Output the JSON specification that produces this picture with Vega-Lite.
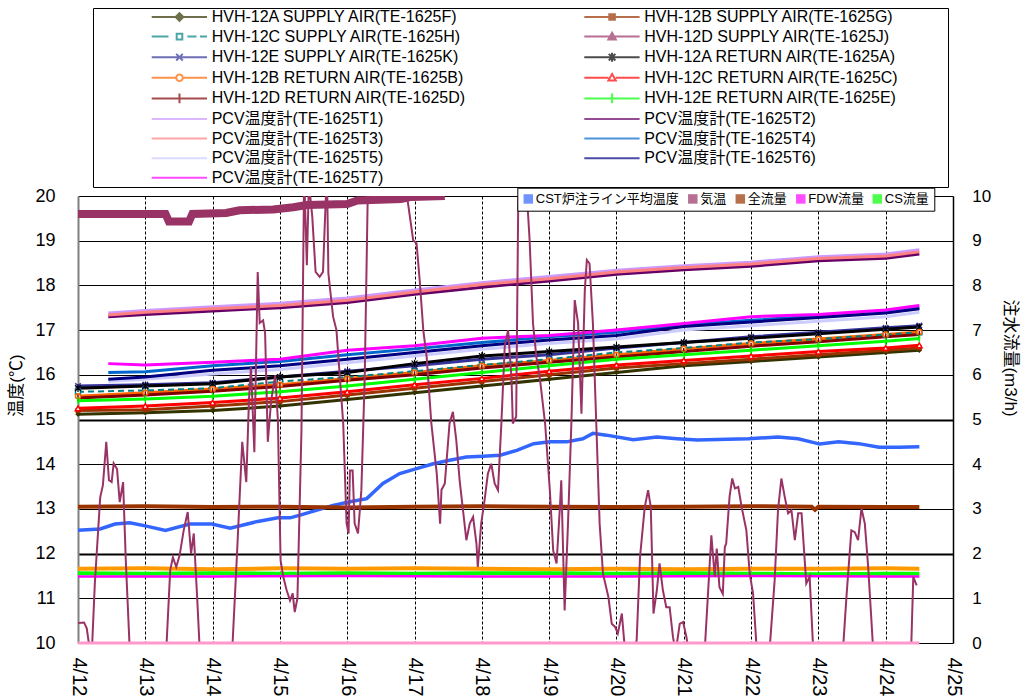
{
"$schema": "https://vega.github.io/schema/vega-lite/v6.json",
"width": 875, "height": 447,
"autosize": "none",
"padding": {"left": 78, "top": 196, "right": 74, "bottom": 57},
"background": "white",
"config": {"font": "Liberation Sans, Noto Sans CJK JP", "view": {"stroke": null}},
"datasets": {
"names": [
{"k":"F","s":"HVH-12A SUPPLY AIR(TE-1625F)"},{"k":"G","s":"HVH-12B SUPPLY AIR(TE-1625G)"},{"k":"H","s":"HVH-12C SUPPLY AIR(TE-1625H)"},{"k":"J","s":"HVH-12D SUPPLY AIR(TE-1625J)"},{"k":"K","s":"HVH-12E SUPPLY AIR(TE-1625K)"},
{"k":"A","s":"HVH-12A RETURN AIR(TE-1625A)"},{"k":"B","s":"HVH-12B RETURN AIR(TE-1625B)"},{"k":"C","s":"HVH-12C RETURN AIR(TE-1625C)"},{"k":"D","s":"HVH-12D RETURN AIR(TE-1625D)"},{"k":"E","s":"HVH-12E RETURN AIR(TE-1625E)"},
{"k":"T1","s":"PCV温度計(TE-1625T1)"},{"k":"T2","s":"PCV温度計(TE-1625T2)"},{"k":"T3","s":"PCV温度計(TE-1625T3)"},{"k":"T4","s":"PCV温度計(TE-1625T4)"},{"k":"T5","s":"PCV温度計(TE-1625T5)"},{"k":"T6","s":"PCV温度計(TE-1625T6)"},{"k":"T7","s":"PCV温度計(TE-1625T7)"},
{"k":"CST","s":"CST炉注ライン平均温度"}
],
"temp": [
{"k":"F","d":12,"v":15.12},{"k":"F","d":13,"v":15.15},{"k":"F","d":14,"v":15.2},{"k":"F","d":15,"v":15.3},{"k":"F","d":16,"v":15.45},{"k":"F","d":17,"v":15.6},{"k":"F","d":18,"v":15.75},{"k":"F","d":19,"v":15.9},{"k":"F","d":20,"v":16.05},{"k":"F","d":21,"v":16.2},{"k":"F","d":22,"v":16.3},{"k":"F","d":23,"v":16.4},{"k":"F","d":24,"v":16.5},{"k":"F","d":24.5,"v":16.55},
{"k":"G","d":12,"v":15.2},{"k":"G","d":13,"v":15.22},{"k":"G","d":14,"v":15.3},{"k":"G","d":15,"v":15.4},{"k":"G","d":16,"v":15.55},{"k":"G","d":17,"v":15.7},{"k":"G","d":18,"v":15.85},{"k":"G","d":19,"v":16.0},{"k":"G","d":20,"v":16.15},{"k":"G","d":21,"v":16.25},{"k":"G","d":22,"v":16.35},{"k":"G","d":23,"v":16.45},{"k":"G","d":24,"v":16.55},{"k":"G","d":24.5,"v":16.6},
{"k":"H","d":12,"v":15.62},{"k":"H","d":13,"v":15.65},{"k":"H","d":14,"v":15.7},{"k":"H","d":15,"v":15.85},{"k":"H","d":16,"v":15.95},{"k":"H","d":17,"v":16.08},{"k":"H","d":18,"v":16.22},{"k":"H","d":19,"v":16.35},{"k":"H","d":20,"v":16.5},{"k":"H","d":21,"v":16.6},{"k":"H","d":22,"v":16.72},{"k":"H","d":23,"v":16.8},{"k":"H","d":24,"v":16.9},{"k":"H","d":24.5,"v":16.95},
{"k":"K","d":12,"v":15.75},{"k":"K","d":13,"v":15.78},{"k":"K","d":14,"v":15.82},{"k":"K","d":15,"v":15.95},{"k":"K","d":16,"v":16.08},{"k":"K","d":17,"v":16.2},{"k":"K","d":18,"v":16.35},{"k":"K","d":19,"v":16.45},{"k":"K","d":20,"v":16.6},{"k":"K","d":21,"v":16.72},{"k":"K","d":22,"v":16.85},{"k":"K","d":23,"v":16.95},{"k":"K","d":24,"v":17.05},{"k":"K","d":24.5,"v":17.1},
{"k":"A","d":12,"v":15.7},{"k":"A","d":13,"v":15.75},{"k":"A","d":14,"v":15.8},{"k":"A","d":15,"v":15.95},{"k":"A","d":16,"v":16.05},{"k":"A","d":17,"v":16.25},{"k":"A","d":18,"v":16.42},{"k":"A","d":19,"v":16.52},{"k":"A","d":20,"v":16.62},{"k":"A","d":21,"v":16.72},{"k":"A","d":22,"v":16.82},{"k":"A","d":23,"v":16.92},{"k":"A","d":24,"v":17.02},{"k":"A","d":24.5,"v":17.07},
{"k":"B","d":12,"v":15.52},{"k":"B","d":13,"v":15.6},{"k":"B","d":14,"v":15.68},{"k":"B","d":15,"v":15.78},{"k":"B","d":16,"v":15.92},{"k":"B","d":17,"v":16.05},{"k":"B","d":18,"v":16.2},{"k":"B","d":19,"v":16.32},{"k":"B","d":20,"v":16.45},{"k":"B","d":21,"v":16.58},{"k":"B","d":22,"v":16.7},{"k":"B","d":23,"v":16.8},{"k":"B","d":24,"v":16.9},{"k":"B","d":24.5,"v":16.96},
{"k":"C","d":12,"v":15.25},{"k":"C","d":13,"v":15.3},{"k":"C","d":14,"v":15.38},{"k":"C","d":15,"v":15.48},{"k":"C","d":16,"v":15.62},{"k":"C","d":17,"v":15.78},{"k":"C","d":18,"v":15.92},{"k":"C","d":19,"v":16.08},{"k":"C","d":20,"v":16.22},{"k":"C","d":21,"v":16.32},{"k":"C","d":22,"v":16.42},{"k":"C","d":23,"v":16.52},{"k":"C","d":24,"v":16.6},{"k":"C","d":24.5,"v":16.66},
{"k":"D","d":12,"v":15.48},{"k":"D","d":13,"v":15.55},{"k":"D","d":14,"v":15.63},{"k":"D","d":15,"v":15.74},{"k":"D","d":16,"v":15.88},{"k":"D","d":17,"v":16.0},{"k":"D","d":18,"v":16.15},{"k":"D","d":19,"v":16.28},{"k":"D","d":20,"v":16.4},{"k":"D","d":21,"v":16.52},{"k":"D","d":22,"v":16.64},{"k":"D","d":23,"v":16.74},{"k":"D","d":24,"v":16.85},{"k":"D","d":24.5,"v":16.9},
{"k":"E","d":12,"v":15.42},{"k":"E","d":13,"v":15.46},{"k":"E","d":14,"v":15.52},{"k":"E","d":15,"v":15.62},{"k":"E","d":16,"v":15.75},{"k":"E","d":17,"v":15.9},{"k":"E","d":18,"v":16.05},{"k":"E","d":19,"v":16.2},{"k":"E","d":20,"v":16.35},{"k":"E","d":21,"v":16.45},{"k":"E","d":22,"v":16.55},{"k":"E","d":23,"v":16.65},{"k":"E","d":24,"v":16.75},{"k":"E","d":24.5,"v":16.81},
{"k":"T1","d":12.45,"v":17.38},{"k":"T1","d":13,"v":17.44},{"k":"T1","d":14,"v":17.52},{"k":"T1","d":15,"v":17.6},{"k":"T1","d":16,"v":17.72},{"k":"T1","d":17,"v":17.9},{"k":"T1","d":18,"v":18.06},{"k":"T1","d":19,"v":18.2},{"k":"T1","d":20,"v":18.34},{"k":"T1","d":21,"v":18.44},{"k":"T1","d":22,"v":18.52},{"k":"T1","d":23,"v":18.64},{"k":"T1","d":24,"v":18.7},{"k":"T1","d":24.5,"v":18.8},
{"k":"T2","d":12.45,"v":17.3},{"k":"T2","d":13,"v":17.35},{"k":"T2","d":14,"v":17.43},{"k":"T2","d":15,"v":17.5},{"k":"T2","d":16,"v":17.62},{"k":"T2","d":17,"v":17.8},{"k":"T2","d":18,"v":17.96},{"k":"T2","d":19,"v":18.1},{"k":"T2","d":20,"v":18.25},{"k":"T2","d":21,"v":18.35},{"k":"T2","d":22,"v":18.43},{"k":"T2","d":23,"v":18.55},{"k":"T2","d":24,"v":18.61},{"k":"T2","d":24.5,"v":18.7},
{"k":"T3","d":12.45,"v":17.34},{"k":"T3","d":13,"v":17.4},{"k":"T3","d":14,"v":17.48},{"k":"T3","d":15,"v":17.55},{"k":"T3","d":16,"v":17.67},{"k":"T3","d":17,"v":17.85},{"k":"T3","d":18,"v":18.02},{"k":"T3","d":19,"v":18.15},{"k":"T3","d":20,"v":18.3},{"k":"T3","d":21,"v":18.4},{"k":"T3","d":22,"v":18.48},{"k":"T3","d":23,"v":18.6},{"k":"T3","d":24,"v":18.66},{"k":"T3","d":24.5,"v":18.75},
{"k":"T4","d":12.45,"v":16.05},{"k":"T4","d":13,"v":16.07},{"k":"T4","d":14,"v":16.2},{"k":"T4","d":15,"v":16.3},{"k":"T4","d":16,"v":16.45},{"k":"T4","d":17,"v":16.58},{"k":"T4","d":18,"v":16.72},{"k":"T4","d":19,"v":16.85},{"k":"T4","d":20,"v":16.95},{"k":"T4","d":21,"v":17.12},{"k":"T4","d":22,"v":17.22},{"k":"T4","d":23,"v":17.32},{"k":"T4","d":24,"v":17.42},{"k":"T4","d":24.5,"v":17.5},
{"k":"T5","d":12.45,"v":15.85},{"k":"T5","d":13,"v":15.9},{"k":"T5","d":14,"v":16.02},{"k":"T5","d":15,"v":16.12},{"k":"T5","d":16,"v":16.27},{"k":"T5","d":17,"v":16.42},{"k":"T5","d":18,"v":16.57},{"k":"T5","d":19,"v":16.7},{"k":"T5","d":20,"v":16.8},{"k":"T5","d":21,"v":17.0},{"k":"T5","d":22,"v":17.1},{"k":"T5","d":23,"v":17.2},{"k":"T5","d":24,"v":17.3},{"k":"T5","d":24.5,"v":17.4},
{"k":"T6","d":12.45,"v":15.9},{"k":"T6","d":13,"v":15.95},{"k":"T6","d":14,"v":16.1},{"k":"T6","d":15,"v":16.2},{"k":"T6","d":16,"v":16.35},{"k":"T6","d":17,"v":16.5},{"k":"T6","d":18,"v":16.65},{"k":"T6","d":19,"v":16.78},{"k":"T6","d":20,"v":16.88},{"k":"T6","d":21,"v":17.08},{"k":"T6","d":22,"v":17.18},{"k":"T6","d":23,"v":17.28},{"k":"T6","d":24,"v":17.38},{"k":"T6","d":24.5,"v":17.48},
{"k":"T7","d":12.45,"v":16.25},{"k":"T7","d":13,"v":16.22},{"k":"T7","d":14,"v":16.28},{"k":"T7","d":15,"v":16.35},{"k":"T7","d":16,"v":16.55},{"k":"T7","d":17,"v":16.65},{"k":"T7","d":18,"v":16.82},{"k":"T7","d":19,"v":16.88},{"k":"T7","d":20,"v":17.0},{"k":"T7","d":21,"v":17.15},{"k":"T7","d":22,"v":17.3},{"k":"T7","d":23,"v":17.35},{"k":"T7","d":24,"v":17.45},{"k":"T7","d":24.5,"v":17.55},
{"k":"J","d":12,"v":19.6},{"k":"J","d":13.3,"v":19.6},{"k":"J","d":13.35,"v":19.43},{"k":"J","d":13.65,"v":19.43},{"k":"J","d":13.7,"v":19.6},{"k":"J","d":14.2,"v":19.62},{"k":"J","d":14.4,"v":19.68},{"k":"J","d":14.9,"v":19.7},{"k":"J","d":15.2,"v":19.75},{"k":"J","d":15.4,"v":19.8},{"k":"J","d":16.0,"v":19.82},{"k":"J","d":16.15,"v":19.9},{"k":"J","d":16.8,"v":19.93},{"k":"J","d":16.95,"v":19.98},{"k":"J","d":17.45,"v":20.0},
{"k":"CST","d":12,"v":12.52},{"k":"CST","d":12.33,"v":12.55},{"k":"CST","d":12.55,"v":12.66},{"k":"CST","d":12.77,"v":12.69},{"k":"CST","d":13.0,"v":12.62},{"k":"CST","d":13.3,"v":12.52},{"k":"CST","d":13.66,"v":12.66},{"k":"CST","d":13.99,"v":12.66},{"k":"CST","d":14.26,"v":12.57},{"k":"CST","d":14.67,"v":12.72},{"k":"CST","d":14.97,"v":12.8},{"k":"CST","d":15.15,"v":12.8},{"k":"CST","d":15.3,"v":12.86},{"k":"CST","d":15.79,"v":13.08},{"k":"CST","d":16.04,"v":13.16},{"k":"CST","d":16.29,"v":13.23},{"k":"CST","d":16.53,"v":13.57},{"k":"CST","d":16.78,"v":13.79},{"k":"CST","d":17.03,"v":13.9},{"k":"CST","d":17.28,"v":14.01},{"k":"CST","d":17.52,"v":14.09},{"k":"CST","d":17.77,"v":14.16},{"k":"CST","d":18.02,"v":14.18},{"k":"CST","d":18.27,"v":14.2},{"k":"CST","d":18.52,"v":14.31},{"k":"CST","d":18.77,"v":14.46},{"k":"CST","d":19.01,"v":14.5},{"k":"CST","d":19.26,"v":14.5},{"k":"CST","d":19.5,"v":14.57},{"k":"CST","d":19.65,"v":14.69},{"k":"CST","d":19.85,"v":14.65},{"k":"CST","d":20.25,"v":14.55},{"k":"CST","d":20.6,"v":14.61},{"k":"CST","d":20.9,"v":14.57},{"k":"CST","d":21.2,"v":14.54},{"k":"CST","d":21.5,"v":14.55},{"k":"CST","d":21.96,"v":14.57},{"k":"CST","d":22.4,"v":14.61},{"k":"CST","d":22.7,"v":14.57},{"k":"CST","d":23.02,"v":14.45},{"k":"CST","d":23.3,"v":14.5},{"k":"CST","d":23.6,"v":14.46},{"k":"CST","d":23.9,"v":14.38},{"k":"CST","d":24.2,"v":14.38},{"k":"CST","d":24.5,"v":14.39}
],
"right": [
{"k":"TOT","d":12,"v":3.05},{"k":"TOT","d":13,"v":3.06},{"k":"TOT","d":14,"v":3.04},{"k":"TOT","d":15,"v":3.05},{"k":"TOT","d":16,"v":3.03},{"k":"TOT","d":17,"v":3.05},{"k":"TOT","d":18,"v":3.06},{"k":"TOT","d":19,"v":3.05},{"k":"TOT","d":20,"v":3.04},{"k":"TOT","d":21,"v":3.05},{"k":"TOT","d":22,"v":3.06},{"k":"TOT","d":22.9,"v":3.05},{"k":"TOT","d":22.95,"v":2.98},{"k":"TOT","d":23,"v":3.05},{"k":"TOT","d":24,"v":3.04},{"k":"TOT","d":24.5,"v":3.04},
{"k":"OR","d":12,"v":1.66},{"k":"OR","d":13,"v":1.67},{"k":"OR","d":14,"v":1.65},{"k":"OR","d":15,"v":1.67},{"k":"OR","d":16,"v":1.66},{"k":"OR","d":17,"v":1.67},{"k":"OR","d":18,"v":1.66},{"k":"OR","d":19,"v":1.65},{"k":"OR","d":20,"v":1.66},{"k":"OR","d":21,"v":1.65},{"k":"OR","d":22,"v":1.66},{"k":"OR","d":23,"v":1.66},{"k":"OR","d":24,"v":1.67},{"k":"OR","d":24.5,"v":1.66},
{"k":"CS","d":12,"v":1.56},{"k":"CS","d":13,"v":1.55},{"k":"CS","d":14,"v":1.56},{"k":"CS","d":15,"v":1.55},{"k":"CS","d":16,"v":1.56},{"k":"CS","d":17,"v":1.55},{"k":"CS","d":18,"v":1.56},{"k":"CS","d":19,"v":1.56},{"k":"CS","d":20,"v":1.55},{"k":"CS","d":21,"v":1.56},{"k":"CS","d":22,"v":1.55},{"k":"CS","d":23,"v":1.54},{"k":"CS","d":24,"v":1.55},{"k":"CS","d":24.5,"v":1.55},
{"k":"FDW","d":12,"v":1.49},{"k":"FDW","d":14,"v":1.49},{"k":"FDW","d":16,"v":1.5},{"k":"FDW","d":18,"v":1.49},{"k":"FDW","d":20,"v":1.49},{"k":"FDW","d":22,"v":1.5},{"k":"FDW","d":24,"v":1.49},{"k":"FDW","d":24.5,"v":1.49},
{"k":"PK","d":12,"v":0},{"k":"PK","d":18,"v":0},{"k":"PK","d":24.5,"v":0},
{"k":"AT","d":12.0,"v":0.45},{"k":"AT","d":12.09,"v":0.46},{"k":"AT","d":12.13,"v":0.33},{"k":"AT","d":12.18,"v":-0.2},{"k":"AT","d":12.21,"v":-0.05},{"k":"AT","d":12.25,"v":1.33},{"k":"AT","d":12.33,"v":3.26},{"k":"AT","d":12.37,"v":3.53},{"k":"AT","d":12.42,"v":4.5},{"k":"AT","d":12.46,"v":3.64},{"k":"AT","d":12.5,"v":3.6},{"k":"AT","d":12.53,"v":4.02},{"k":"AT","d":12.58,"v":3.89},{"k":"AT","d":12.62,"v":3.15},{"k":"AT","d":12.67,"v":3.6},{"k":"AT","d":12.71,"v":1.85},{"k":"AT","d":12.77,"v":-0.2},{"k":"AT","d":13.07,"v":-0.4},{"k":"AT","d":13.31,"v":-0.2},{"k":"AT","d":13.37,"v":1.63},{"k":"AT","d":13.41,"v":1.92},{"k":"AT","d":13.46,"v":1.7},{"k":"AT","d":13.51,"v":1.96},{"k":"AT","d":13.57,"v":2.52},{"k":"AT","d":13.63,"v":2.93},{"k":"AT","d":13.68,"v":2.0},{"k":"AT","d":13.72,"v":2.45},{"k":"AT","d":13.77,"v":1.03},{"k":"AT","d":13.81,"v":-0.2},{"k":"AT","d":14.03,"v":-0.4},{"k":"AT","d":14.29,"v":-0.2},{"k":"AT","d":14.36,"v":1.92},{"k":"AT","d":14.44,"v":4.5},{"k":"AT","d":14.5,"v":3.6},{"k":"AT","d":14.54,"v":5.43},{"k":"AT","d":14.57,"v":6.18},{"k":"AT","d":14.62,"v":4.27},{"k":"AT","d":14.67,"v":8.3},{"k":"AT","d":14.7,"v":7.16},{"k":"AT","d":14.75,"v":7.22},{"k":"AT","d":14.78,"v":6.93},{"k":"AT","d":14.82,"v":4.5},{"k":"AT","d":14.87,"v":5.43},{"k":"AT","d":14.93,"v":5.99},{"k":"AT","d":14.97,"v":4.98},{"k":"AT","d":15.01,"v":1.85},{"k":"AT","d":15.05,"v":1.48},{"k":"AT","d":15.1,"v":1.18},{"k":"AT","d":15.15,"v":0.95},{"k":"AT","d":15.19,"v":1.11},{"k":"AT","d":15.22,"v":0.69},{"k":"AT","d":15.26,"v":1.0},{"k":"AT","d":15.32,"v":4.76},{"k":"AT","d":15.36,"v":10.5},{"k":"AT","d":15.4,"v":8.45},{"k":"AT","d":15.43,"v":10.3},{"k":"AT","d":15.48,"v":9.55},{"k":"AT","d":15.53,"v":8.3},{"k":"AT","d":15.59,"v":8.19},{"k":"AT","d":15.64,"v":8.3},{"k":"AT","d":15.68,"v":9.9},{"k":"AT","d":15.7,"v":10.4},{"k":"AT","d":15.72,"v":8.27},{"k":"AT","d":15.79,"v":7.3},{"k":"AT","d":15.84,"v":7.0},{"k":"AT","d":15.89,"v":5.95},{"k":"AT","d":15.94,"v":4.92},{"k":"AT","d":15.99,"v":2.68},{"k":"AT","d":16.02,"v":2.45},{"k":"AT","d":16.04,"v":3.86},{"k":"AT","d":16.08,"v":3.86},{"k":"AT","d":16.11,"v":2.68},{"k":"AT","d":16.16,"v":2.45},{"k":"AT","d":16.21,"v":3.42},{"k":"AT","d":16.26,"v":5.95},{"k":"AT","d":16.31,"v":10.5},{"k":"AT","d":16.49,"v":10.6},{"k":"AT","d":16.71,"v":10.6},{"k":"AT","d":16.86,"v":10.3},{"k":"AT","d":16.91,"v":9.76},{"k":"AT","d":16.98,"v":9.01},{"k":"AT","d":17.03,"v":8.94},{"k":"AT","d":17.08,"v":8.05},{"k":"AT","d":17.13,"v":7.0},{"k":"AT","d":17.18,"v":6.4},{"k":"AT","d":17.25,"v":4.91},{"k":"AT","d":17.33,"v":3.79},{"k":"AT","d":17.38,"v":2.67},{"k":"AT","d":17.4,"v":3.42},{"k":"AT","d":17.45,"v":3.57},{"k":"AT","d":17.52,"v":4.91},{"k":"AT","d":17.57,"v":5.17},{"k":"AT","d":17.62,"v":4.54},{"k":"AT","d":17.67,"v":3.64},{"k":"AT","d":17.72,"v":2.97},{"k":"AT","d":17.77,"v":2.3},{"k":"AT","d":17.82,"v":2.67},{"k":"AT","d":17.87,"v":2.82},{"k":"AT","d":17.92,"v":2.22},{"k":"AT","d":17.94,"v":1.7},{"k":"AT","d":17.99,"v":2.67},{"k":"AT","d":18.04,"v":3.19},{"k":"AT","d":18.09,"v":3.79},{"k":"AT","d":18.14,"v":4.01},{"k":"AT","d":18.19,"v":3.57},{"k":"AT","d":18.24,"v":3.42},{"k":"AT","d":18.29,"v":4.91},{"k":"AT","d":18.34,"v":6.63},{"k":"AT","d":18.39,"v":7.0},{"k":"AT","d":18.44,"v":5.95},{"k":"AT","d":18.46,"v":4.91},{"k":"AT","d":18.51,"v":5.06},{"k":"AT","d":18.54,"v":9.76},{"k":"AT","d":18.56,"v":10.5},{"k":"AT","d":18.65,"v":10.5},{"k":"AT","d":18.71,"v":9.01},{"k":"AT","d":18.76,"v":7.15},{"k":"AT","d":18.81,"v":6.4},{"k":"AT","d":18.86,"v":5.95},{"k":"AT","d":18.94,"v":4.91},{"k":"AT","d":19.01,"v":3.42},{"k":"AT","d":19.06,"v":2.07},{"k":"AT","d":19.11,"v":1.78},{"k":"AT","d":19.16,"v":3.04},{"k":"AT","d":19.18,"v":3.64},{"k":"AT","d":19.23,"v":0.73},{"k":"AT","d":19.28,"v":2.67},{"k":"AT","d":19.33,"v":4.91},{"k":"AT","d":19.38,"v":7.67},{"k":"AT","d":19.43,"v":7.15},{"k":"AT","d":19.48,"v":5.13},{"k":"AT","d":19.53,"v":7.9},{"k":"AT","d":19.56,"v":8.57},{"k":"AT","d":19.6,"v":8.49},{"k":"AT","d":19.65,"v":7.15},{"k":"AT","d":19.7,"v":4.91},{"k":"AT","d":19.75,"v":2.67},{"k":"AT","d":19.8,"v":1.55},{"k":"AT","d":19.88,"v":1.03},{"k":"AT","d":19.93,"v":0.43},{"k":"AT","d":19.98,"v":0.36},{"k":"AT","d":20.02,"v":0.21},{"k":"AT","d":20.08,"v":0.66},{"k":"AT","d":20.12,"v":-0.05},{"k":"AT","d":20.23,"v":-0.3},{"k":"AT","d":20.3,"v":0.06},{"k":"AT","d":20.35,"v":1.92},{"k":"AT","d":20.42,"v":3.04},{"k":"AT","d":20.47,"v":3.42},{"k":"AT","d":20.51,"v":3.04},{"k":"AT","d":20.55,"v":0.66},{"k":"AT","d":20.6,"v":1.18},{"k":"AT","d":20.64,"v":1.78},{"k":"AT","d":20.69,"v":1.18},{"k":"AT","d":20.74,"v":0.8},{"k":"AT","d":20.79,"v":0.8},{"k":"AT","d":20.84,"v":0.13},{"k":"AT","d":20.88,"v":-0.2},{"k":"AT","d":20.94,"v":0.43},{"k":"AT","d":20.99,"v":0.47},{"k":"AT","d":21.04,"v":0.13},{"k":"AT","d":21.09,"v":-0.4},{"k":"AT","d":21.31,"v":-0.2},{"k":"AT","d":21.41,"v":2.41},{"k":"AT","d":21.46,"v":1.48},{"k":"AT","d":21.49,"v":2.11},{"k":"AT","d":21.53,"v":1.25},{"k":"AT","d":21.58,"v":1.1},{"k":"AT","d":21.61,"v":2.15},{"k":"AT","d":21.63,"v":2.22},{"k":"AT","d":21.68,"v":3.27},{"k":"AT","d":21.72,"v":3.68},{"k":"AT","d":21.76,"v":3.46},{"k":"AT","d":21.81,"v":3.49},{"k":"AT","d":21.86,"v":3.04},{"k":"AT","d":21.93,"v":2.52},{"k":"AT","d":21.98,"v":1.55},{"k":"AT","d":22.03,"v":1.1},{"k":"AT","d":22.08,"v":-0.05},{"k":"AT","d":22.17,"v":-0.4},{"k":"AT","d":22.28,"v":-0.05},{"k":"AT","d":22.35,"v":1.4},{"k":"AT","d":22.4,"v":2.97},{"k":"AT","d":22.45,"v":3.68},{"k":"AT","d":22.5,"v":3.27},{"k":"AT","d":22.55,"v":2.9},{"k":"AT","d":22.6,"v":2.97},{"k":"AT","d":22.65,"v":2.3},{"k":"AT","d":22.7,"v":2.9},{"k":"AT","d":22.75,"v":2.9},{"k":"AT","d":22.82,"v":1.33},{"k":"AT","d":22.87,"v":1.48},{"k":"AT","d":22.92,"v":-0.05},{"k":"AT","d":23.14,"v":-0.4},{"k":"AT","d":23.37,"v":-0.05},{"k":"AT","d":23.42,"v":1.1},{"k":"AT","d":23.49,"v":2.52},{"k":"AT","d":23.54,"v":2.48},{"k":"AT","d":23.59,"v":2.3},{"k":"AT","d":23.64,"v":3.01},{"k":"AT","d":23.69,"v":2.67},{"k":"AT","d":23.74,"v":1.7},{"k":"AT","d":23.81,"v":-0.05},{"k":"AT","d":24.06,"v":-0.4},{"k":"AT","d":24.38,"v":-0.05},{"k":"AT","d":24.41,"v":1.48},{"k":"AT","d":24.46,"v":1.29}
]
},
"layer": [
{
"data": {"name": "temp"},
"transform": [{"lookup": "k", "from": {"data": {"name": "names"}, "key": "k", "fields": ["s"]}}],
"encoding": {
"x": {"field": "d", "type": "quantitative", "scale": {"domain": [12, 25], "nice": false, "zero": false},
 "axis": {"values": [12,13,14,15,16,17,18,19,20,21,22,23,24,25], "labelExpr": "'4/' + datum.value", "labelAngle": 90, "labelFontSize": 20, "labelColor": "black", "labelPadding": 14, "labelFlush": false, "labelOverlap": false, "ticks": false, "domain": false, "grid": true, "gridColor": "black", "gridDash": [3, 2], "gridWidth": 1, "gridOpacity": {"condition": {"test": "datum.value == 12 || datum.value == 25", "value": 0}, "value": 1}, "title": null}},
"y": {"field": "v", "type": "quantitative", "scale": {"domain": [10, 20], "nice": false, "zero": false},
 "axis": {"values": [10,11,12,13,14,15,16,17,18,19,20], "grid": true, "gridColor": "black", "gridWidth": {"condition": {"test": "datum.value == 12 || datum.value == 15", "value": 2.2}, "value": 1}, "ticks": false, "domainColor": "#808080", "domainWidth": 2, "labelFontSize": 18, "labelPadding": 23, "labelColor": "black", "title": "温度(℃)", "titleFontSize": 17, "titleFontWeight": "normal", "titleColor": "black", "titleAngle": 270, "titleX": -61.5, "titleY": 189, "titleAlign": "center", "titleBaseline": "middle"}},
"color": {"field": "s", "type": "nominal", "legend": null, "scale": {
 "domain": ["HVH-12A SUPPLY AIR(TE-1625F)","HVH-12B SUPPLY AIR(TE-1625G)","HVH-12C SUPPLY AIR(TE-1625H)","HVH-12D SUPPLY AIR(TE-1625J)","HVH-12E SUPPLY AIR(TE-1625K)","HVH-12A RETURN AIR(TE-1625A)","HVH-12B RETURN AIR(TE-1625B)","HVH-12C RETURN AIR(TE-1625C)","HVH-12D RETURN AIR(TE-1625D)","HVH-12E RETURN AIR(TE-1625E)","PCV温度計(TE-1625T1)","PCV温度計(TE-1625T2)","PCV温度計(TE-1625T3)","PCV温度計(TE-1625T4)","PCV温度計(TE-1625T5)","PCV温度計(TE-1625T6)","PCV温度計(TE-1625T7)"],
 "range": ["#333300","#993300","#008080","#993366","#333399","#000000","#FF6600","#FF0000","#800000","#00FF00","#CC99FF","#660066","#FF8080","#0066CC","#CCCCFF","#000080","#FF00FF"]}}
},
"layer": [
{"transform": [{"filter": "datum.k != 'J' && datum.k != 'H' && datum.k != 'CST'"}], "mark": {"type": "line", "strokeWidth": 3, "clip": true}},
{"transform": [{"filter": "datum.k == 'H'"}], "mark": {"type": "line", "strokeWidth": 2, "strokeDash": [6, 4], "clip": true}},
{"transform": [{"filter": "datum.k == 'F'"}], "mark": {"type": "point", "shape": "diamond", "filled": true, "size": 30, "opacity": 1}},
{"transform": [{"filter": "datum.k == 'G'"}], "mark": {"type": "point", "shape": "square", "filled": true, "size": 25, "opacity": 1}},
{"transform": [{"filter": "datum.k == 'H'"}], "mark": {"type": "point", "shape": "square", "filled": false, "fill": "white", "size": 25, "strokeWidth": 1.5, "opacity": 1}},
{"transform": [{"filter": "datum.k == 'K'"}], "mark": {"type": "point", "shape": "M-1,-1L1,1M-1,1L1,-1", "filled": false, "size": 30, "strokeWidth": 1.5, "opacity": 1}},
{"transform": [{"filter": "datum.k == 'A'"}], "mark": {"type": "point", "shape": "M-1,-1L1,1M-1,1L1,-1M0,-1.3V1.3", "filled": false, "size": 35, "strokeWidth": 1.2, "opacity": 1}},
{"transform": [{"filter": "datum.k == 'B'"}], "mark": {"type": "point", "shape": "circle", "filled": false, "fill": "white", "size": 25, "strokeWidth": 1.5, "opacity": 1}},
{"transform": [{"filter": "datum.k == 'C'"}], "mark": {"type": "point", "shape": "triangle-up", "filled": false, "fill": "white", "size": 30, "strokeWidth": 1.5, "opacity": 1}},
{"transform": [{"filter": "datum.k == 'D' || datum.k == 'E'"}], "mark": {"type": "point", "shape": "M0,-1.2V1.2", "filled": false, "size": 35, "strokeWidth": 1.5, "opacity": 1}},
{"transform": [{"filter": "datum.k == 'J'"}], "mark": {"type": "line", "strokeWidth": 8, "clip": true}},
{"transform": [{"filter": "datum.k == 'CST'"}], "mark": {"type": "line", "strokeWidth": 3.5, "color": "#3366FF"}, "encoding": {"color": {"value": "#3366FF"}}}
]
},
{
"data": {"name": "right"},
"encoding": {
"x": {"field": "d", "type": "quantitative", "scale": {"domain": [12, 25], "nice": false, "zero": false},
 "axis": {"values": [12,13,14,15,16,17,18,19,20,21,22,23,24,25], "labelExpr": "'4/' + datum.value", "labelAngle": 90, "labelFontSize": 20, "labelColor": "black", "labelPadding": 14, "labelFlush": false, "labelOverlap": false, "ticks": false, "domain": false, "grid": true, "gridColor": "black", "gridDash": [3, 2], "gridWidth": 1, "gridOpacity": {"condition": {"test": "datum.value == 12 || datum.value == 25", "value": 0}, "value": 1}, "title": null}},
"y": {"field": "v", "type": "quantitative", "scale": {"domain": [0, 10], "nice": false, "zero": false},
 "axis": {"orient": "right", "values": [0,1,2,3,4,5,6,7,8,9,10], "grid": false, "ticks": false, "domainColor": "black", "domainWidth": 1.5, "labelFontSize": 17, "labelPadding": 18.7, "labelAlign": "left", "labelColor": "black", "title": "注水流量(m3/h)", "titleFontSize": 17, "titleFontWeight": "normal", "titleColor": "black", "titleAngle": 90, "titleX": 56, "titleY": 161.5, "titleAlign": "center", "titleBaseline": "middle"}},
"color": {"field": "k", "type": "nominal", "legend": null, "scale": {"domain": ["AT","TOT","FDW","CS","OR","PK"], "range": ["#993366","#993300","#FF00FF","#00FF00","#FF9900","#FF99CC"]}}
},
"layer": [
{"transform": [{"filter": "datum.k == 'TOT' || datum.k == 'OR' || datum.k == 'CS'"}], "mark": {"type": "line", "strokeWidth": 4}},
{"transform": [{"filter": "datum.k == 'FDW'"}], "mark": {"type": "line", "strokeWidth": 2.5}},
{"transform": [{"filter": "datum.k == 'AT'"}], "mark": {"type": "line", "strokeWidth": 2, "clip": true}},
{"transform": [{"filter": "datum.k == 'PK'"}], "mark": {"type": "line", "strokeWidth": 3}}
]
},
{
"data": {"name": "temp"},
"transform": [{"filter": "false"}],
"mark": {"type": "point", "filled": false, "strokeWidth": 2, "size": 196},
"encoding": {
"color": {"field": "s", "type": "nominal",
 "scale": {"domain": ["HVH-12A SUPPLY AIR(TE-1625F)","HVH-12C SUPPLY AIR(TE-1625H)","HVH-12E SUPPLY AIR(TE-1625K)","HVH-12B RETURN AIR(TE-1625B)","HVH-12D RETURN AIR(TE-1625D)","PCV温度計(TE-1625T1)","PCV温度計(TE-1625T3)","PCV温度計(TE-1625T5)","PCV温度計(TE-1625T7)","HVH-12B SUPPLY AIR(TE-1625G)","HVH-12D SUPPLY AIR(TE-1625J)","HVH-12A RETURN AIR(TE-1625A)","HVH-12C RETURN AIR(TE-1625C)","HVH-12E RETURN AIR(TE-1625E)","PCV温度計(TE-1625T2)","PCV温度計(TE-1625T4)","PCV温度計(TE-1625T6)"],
  "range": ["#333300","#008080","#333399","#FF6600","#800000","#CC99FF","#FF8080","#CCCCFF","#FF00FF","#993300","#993366","#000000","#FF0000","#00FF00","#660066","#0066CC","#000080"]},
 "legend": {"orient": "none", "legendX": 15, "legendY": -188, "columns": 2, "title": null, "labelFontSize": 16, "labelColor": "black", "labelLimit": 700, "labelOffset": 101.7, "symbolSize": 196, "symbolStrokeWidth": 2, "rowPadding": 3.6, "columnPadding": 60.6, "padding": 1, "strokeColor": "black", "fillColor": "white", "labelExpr": "datum.index >= 9 ? datum.label + '        \u2800' : datum.label"}},
"shape": {"field": "s", "type": "nominal",
 "scale": {"domain": ["HVH-12A SUPPLY AIR(TE-1625F)","HVH-12C SUPPLY AIR(TE-1625H)","HVH-12E SUPPLY AIR(TE-1625K)","HVH-12B RETURN AIR(TE-1625B)","HVH-12D RETURN AIR(TE-1625D)","PCV温度計(TE-1625T1)","PCV温度計(TE-1625T3)","PCV温度計(TE-1625T5)","PCV温度計(TE-1625T7)","HVH-12B SUPPLY AIR(TE-1625G)","HVH-12D SUPPLY AIR(TE-1625J)","HVH-12A RETURN AIR(TE-1625A)","HVH-12C RETURN AIR(TE-1625C)","HVH-12E RETURN AIR(TE-1625E)","PCV温度計(TE-1625T2)","PCV温度計(TE-1625T4)","PCV温度計(TE-1625T6)"],
  "range": [
   "M7.1,0H15M11.07,-0.55L11.62,0L11.07,0.55L10.52,0ZM11.07,-0.25L11.32,0L11.07,0.25L10.82,0Z",
   "M7.1,0H9.5M12.2,0H13.5M14,0H15M10.67,-0.4H11.47V0.4H10.67Z",
   "M7.1,0H15M10.6,-0.47L11.54,0.47M10.6,0.47L11.54,-0.47",
   "M7.1,0H10.6M11.54,0H15M10.6,0A0.47,0.47 0 1,0 11.54,0A0.47,0.47 0 1,0 10.6,0Z",
   "M7.1,0H15M11.07,-0.7V0.7",
   "M7.1,0H15",
   "M7.1,0H15",
   "M7.1,0H15",
   "M7.1,0H15",
   "M7.1,0H15M10.67,-0.4H11.47V0.4H10.67ZM10.87,-0.2H11.27V0.2H10.87Z",
   "M7.1,0H15M11.07,-0.55L11.6,0.4H10.54ZM11.07,-0.15L11.3,0.25H10.84Z",
   "M7.1,0H15M10.6,-0.47L11.54,0.47M10.6,0.47L11.54,-0.47M11.07,-0.65V0.65",
   "M7.1,0H10.55M11.6,0H15M11.07,-0.55L11.6,0.4H10.54Z",
   "M7.1,0H15M11.07,-0.7V0.7",
   "M7.1,0H15",
   "M7.1,0H15",
   "M7.1,0H15"]},
 "legend": {"orient": "none", "legendX": 15, "legendY": -188, "columns": 2, "title": null, "labelFontSize": 16, "labelColor": "black", "labelLimit": 700, "labelOffset": 101.7, "symbolSize": 196, "symbolStrokeWidth": 2, "rowPadding": 3.6, "columnPadding": 60.6, "padding": 1, "strokeColor": "black", "fillColor": "white", "labelExpr": "datum.index >= 9 ? datum.label + '        \u2800' : datum.label"}}
}
},
{
"data": {"name": "temp"},
"transform": [{"filter": "false"}],
"mark": {"type": "point", "shape": "square", "filled": true, "size": 90},
"encoding": {
"color": {"field": "s", "type": "nominal",
 "scale": {"domain": ["CST炉注ライン平均温度","気温","全流量","FDW流量","CS流量"], "range": ["#3366FF","#993366","#993300","#FF00FF","#00FF00"]},
 "legend": {"orient": "none", "legendX": 439.3, "legendY": -8.3, "direction": "horizontal", "title": null, "labelFontSize": 13, "labelColor": "black", "labelOffset": 1, "labelLimit": 300, "symbolType": "square", "symbolSize": 90, "symbolStrokeWidth": 0, "columnPadding": 6.5, "padding": 4.5, "strokeColor": "black", "fillColor": "white"}}
}
}
],
"resolve": {"scale": {"y": "independent", "color": "independent", "shape": "independent"}}
}
